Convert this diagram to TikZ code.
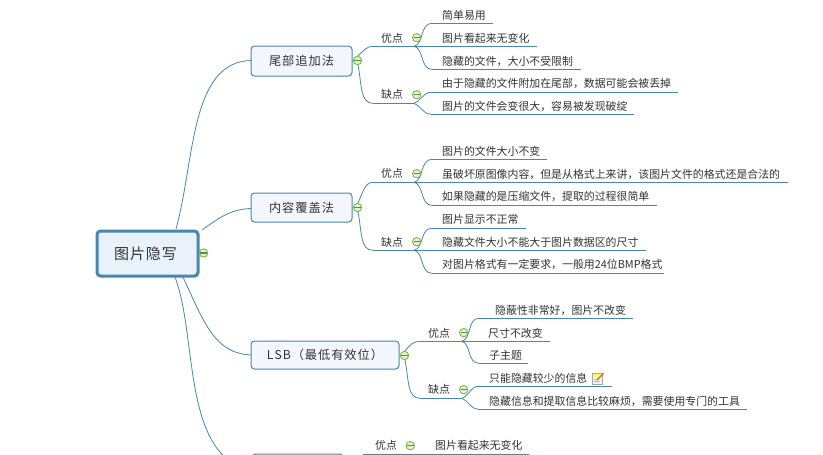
\documentclass[tikz,border=0pt]{standalone}
\usepackage{fontspec}
\setmainfont{Noto Sans CJK SC}
\newfontfamily\leaffont[Kerning=Off]{Noto Sans CJK SC}
\newfontfamily\topicfont[LetterSpace=8,Kerning=Off]{Noto Sans CJK SC}
\newfontfamily\rootfont[LetterSpace=6,Kerning=Off]{Noto Sans CJK SC}
\definecolor{linec}{HTML}{4A86B0}
\definecolor{txt}{HTML}{333333}
\tikzset{
  x=1pt,y=-1pt,
  conn/.style={draw=linec,line width=0.8pt},
  topic/.style={draw=linec,line width=1pt,rounded corners=3.5pt,fill=topicfill,text=txt,font=\topicfont\fontsize{12.2}{14}\selectfont,inner sep=0pt,anchor=center},
  rootbox/.style={draw=linec,line width=3pt,rounded corners=3.5pt,fill=rootfill,text=txt,font=\rootfont\fontsize{15}{17}\selectfont,inner sep=0pt,anchor=center},
  lab/.style={text=txt,font=\leaffont\fontsize{10.9}{12}\selectfont,inner sep=0pt,anchor=west},
  minusbtn/.style={circle,draw=btnedge,fill=btnfill,line width=0.9pt,minimum size=8.4pt,inner sep=0pt,
    path picture={\draw[btnbar,line width=1.1pt] ([xshift=-3.2pt]path picture bounding box.center) -- ([xshift=3.2pt]path picture bounding box.center);}},
}
\definecolor{topicfill}{HTML}{F3F7FD}
\definecolor{rootfill}{HTML}{E9F1FB}
\definecolor{btnedge}{HTML}{7DB944}
\definecolor{btnfill}{HTML}{E4F0D2}
\definecolor{btnbar}{HTML}{5E8F3C}
% id, line start x, line y, line end x, text x, text centre y, text
\newcommand{\leafitem}[7]{%
  \coordinate (#1s) at (#2,#3);
  \coordinate (#1e) at (#4,#3);
  \node[lab] (#1) at (#5,#6) {#7};
  \draw[conn] (#1s) -- (#1e);
}
\begin{document}
\begin{tikzpicture}
\useasboundingbox (0,0) rectangle (823,455);
\clip (0,0) rectangle (823,455);
\fill[white] (0,0) rectangle (823,455);

% boxes
\node[rootbox,minimum width=101pt,minimum height=45pt] (root) at (147.5,253.5) {图片隐写\hspace*{4pt}};
\node[topic,minimum width=101pt,minimum height=30pt] (t1) at (301.5,61) {尾部追加法};
\node[topic,minimum width=101pt,minimum height=29pt] (t2) at (301.5,207.5) {内容覆盖法};
\node[topic,minimum width=148pt,minimum height=28pt] (t3) at (325,355) {LSB（最低有效位）};
\node[topic,minimum width=91pt,minimum height=30pt] (t4) at (297.5,469) {};

% root connectors
\coordinate (r1) at (176,229);
\coordinate (r2) at (202,230);
\coordinate (r3) at (183,277);
\coordinate (r4) at (175,277);
\coordinate (t1w) at (251,60.5);
\coordinate (t2w) at (251,208.5);
\coordinate (t3w) at (251,355);
\coordinate (t4w) at (228,460);
\draw[conn] (r1) .. controls (195,160) and (190,62) .. (t1w);
\draw[conn] (r2) .. controls (220,217) and (232,209) .. (t2w);
\draw[conn] (r3) .. controls (205,325) and (215,353) .. (t3w);
\draw[conn] (r4) .. controls (195,330) and (185,425) .. (t4w);

% topic 1
\coordinate (a0) at (358,56);  \coordinate (a1) at (358,65);
\leafitem{p1}{373}{46.3}{414}{381}{38}{优点}
\leafitem{c1}{373}{103.3}{414}{381}{94.5}{缺点}
\draw[conn] (a0) .. controls (364,50) and (367,46.3) .. (p1s);
\draw[conn] (a1) .. controls (362,85) and (360,103.3) .. (c1s);
\leafitem{p11}{432}{23.3}{493}{442}{15}{简单易用}
\leafitem{p12}{414}{46.3}{537}{442}{38}{图片看起来无变化}
\leafitem{p13}{432}{69.3}{581}{442}{61}{隐藏的文件，大小不受限制}
\leafitem{c11}{431}{92.3}{678}{442}{83}{由于隐藏的文件附加在尾部，数据可能会被丢掉}
\leafitem{c12}{431}{114.3}{634}{442}{106}{图片的文件会变很大，容易被发现破绽}
\draw[conn] (p1e) .. controls (424,44) and (420,23.3) .. (p11s);
\draw[conn] (p1e) .. controls (424,48) and (420,69.3) .. (p13s);
\draw[conn] (c1e) .. controls (420,102) and (423,92.3) .. (c11s);
\draw[conn] (c1e) .. controls (420,105) and (423,114.3) .. (c12s);

% topic 2
\coordinate (b0) at (358,203);  \coordinate (b1) at (358,212);
\leafitem{p2}{373}{182.3}{414}{381}{173.5}{优点}
\leafitem{c2}{373}{250.3}{414}{381}{242}{缺点}
\draw[conn] (b0) .. controls (363,192) and (365,182.3) .. (p2s);
\draw[conn] (b1) .. controls (362,232) and (360,250.3) .. (c2s);
\leafitem{p21}{432}{159.3}{547}{442}{151}{图片的文件大小不变}
\leafitem{p22}{414}{182.3}{788}{442}{174}{虽破坏原图像内容，但是从格式上来讲，该图片文件的格式还是合法的}
\leafitem{p23}{432}{205.3}{657}{442}{196.5}{如果隐藏的是压缩文件，提取的过程很简单}
\leafitem{c21}{432}{228.3}{526}{442}{219}{图片显示不正常}
\leafitem{c22}{414}{250.3}{646}{442}{242}{隐藏文件大小不能大于图片数据区的尺寸}
\leafitem{c23}{432}{273.3}{664}{442}{264.5}{对图片格式有一定要求，一般用24位BMP格式}
\draw[conn] (p2e) .. controls (424,180) and (420,159.3) .. (p21s);
\draw[conn] (p2e) .. controls (424,184) and (420,205.3) .. (p23s);
\draw[conn] (c2e) .. controls (424,248) and (420,228.3) .. (c21s);
\draw[conn] (c2e) .. controls (424,252) and (420,273.3) .. (c23s);

% topic 3
\coordinate (d0) at (405,351);  \coordinate (d1) at (405,360);
\leafitem{p3}{420}{341.3}{461.7}{428}{333}{优点}
\leafitem{c3}{420}{398.3}{461.7}{428}{389.5}{缺点}
\draw[conn] (d0) .. controls (410,345) and (413,341.3) .. (p3s);
\draw[conn] (d1) .. controls (409,380) and (407,398.3) .. (c3s);
\leafitem{p31}{479}{318.3}{633}{495}{310}{隐蔽性非常好，图片不改变}
\leafitem{p32}{461.7}{341.3}{550}{488}{333}{尺寸不改变}
\leafitem{p33}{479}{363.3}{528}{489}{355}{子主题}
\leafitem{c31}{478}{386.3}{612}{489}{378}{只能隐藏较少的信息}
\leafitem{c32}{478}{409.3}{747}{489}{401}{隐藏信息和提取信息比较麻烦，需要使用专门的工具}
\draw[conn] (p3e) .. controls (472,339) and (467,318.3) .. (p31s);
\draw[conn] (p3e) .. controls (471,343) and (467,363.3) .. (p33s);
\draw[conn] (c3e) .. controls (468,397) and (471,386.3) .. (c31s);
\draw[conn] (c3e) .. controls (468,400) and (471,409.3) .. (c32s);

% note icon
\fill[white!90!gray,draw=gray!70,line width=0.7pt] (592.5,373) rectangle (602.5,384);
\fill[yellow!55!white] (593.5,374) rectangle (601.5,376.5);
\draw[gray!60,line width=0.5pt] (594,379) -- (599,379) (594,381.5) -- (600,381.5);
\draw[orange!85!black,line width=1.4pt] (597,380) -- (603.5,373.5);

% topic 4 (cut by the lower edge)
\leafitem{p4}{363}{454}{529}{375}{445}{优点}
\node[lab] (p41) at (435,445) {图片看起来无变化};

% fold buttons
\node[minusbtn] (m0) at (203.5,253) {};
\node[minusbtn] (m1) at (357.5,60.5) {};
\node[minusbtn] (m2) at (357.5,207.5) {};
\node[minusbtn] (m3) at (404.5,355.5) {};
\node[minusbtn] (m4) at (416.7,37.7) {};
\node[minusbtn] (m5) at (416.7,94.7) {};
\node[minusbtn] (m6) at (416.7,173.7) {};
\node[minusbtn] (m7) at (416.7,241.7) {};
\node[minusbtn] (m8) at (463.7,332.7) {};
\node[minusbtn] (m9) at (463.7,389.7) {};
\node[minusbtn] (m10) at (410.3,445.7) {};
\end{tikzpicture}
\end{document}
